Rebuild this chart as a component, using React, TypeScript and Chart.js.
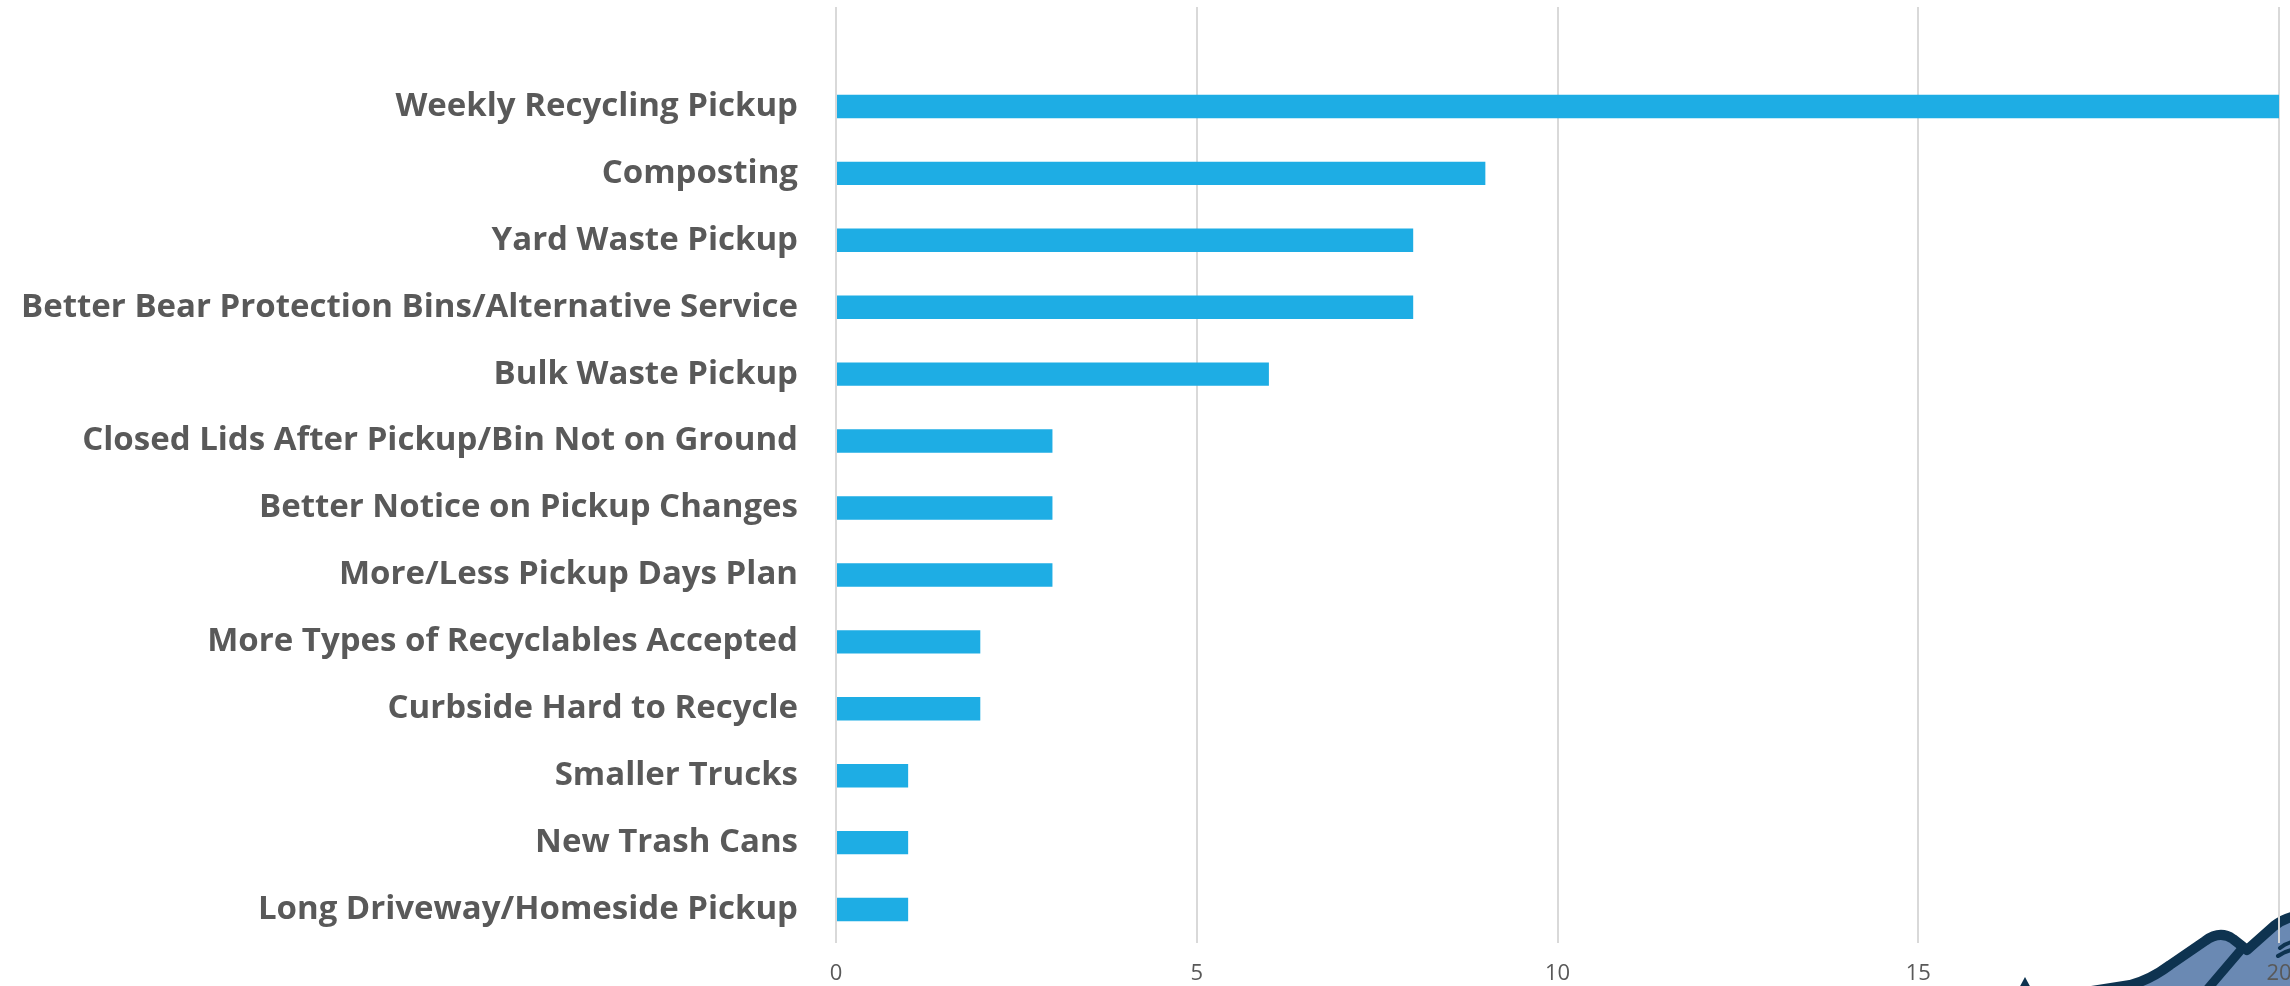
import React, { useEffect, useRef } from "react";
import { Chart, registerables } from "chart.js";

Chart.register(...registerables);

const categories = [
  "Weekly Recycling Pickup",
  "Composting",
  "Yard Waste Pickup",
  "Better Bear Protection Bins/Alternative Service",
  "Bulk Waste Pickup",
  "Closed Lids After Pickup/Bin Not on Ground",
  "Better Notice on Pickup Changes",
  "More/Less Pickup Days Plan",
  "More Types of Recyclables Accepted",
  "Curbside Hard to Recycle",
  "Smaller Trucks",
  "New Trash Cans",
  "Long Driveway/Homeside Pickup",
];

const responses = [20, 9, 8, 8, 6, 3, 3, 3, 2, 2, 1, 1, 1];

const xTicks = [0, 5, 10, 15, 20];

const W = 2290;
const H = 986;

const extendGrid = {
  id: "extendGrid",
  beforeDatasetsDraw(chart: any) {
    const { ctx, chartArea, scales } = chart;
    const x = scales.x;
    ctx.save();
    ctx.strokeStyle = "#d9d9d9";
    ctx.lineWidth = 2;
    xTicks.forEach((v) => {
      const px = Math.round(x.getPixelForValue(v));
      ctx.beginPath();
      ctx.moveTo(px, 7);
      ctx.lineTo(px, chartArea.top);
      ctx.stroke();
    });
    ctx.restore();
  },
};

function ridgePath(ctx: CanvasRenderingContext2D) {
  ctx.moveTo(2085, 992);
  ctx.lineTo(2130, 985);
  ctx.quadraticCurveTo(2150, 980, 2170, 965);
  ctx.lineTo(2205, 941);
  ctx.quadraticCurveTo(2220, 930, 2233, 939);
  ctx.lineTo(2247, 950);
  ctx.lineTo(2274, 926);
  ctx.quadraticCurveTo(2284, 918, 2296, 916);
}

const logo = {
  id: "logo",
  beforeDraw(chart: any) {
    const { ctx } = chart;
    ctx.save();
    ctx.beginPath();
    ridgePath(ctx);
    ctx.lineTo(2296, 992);
    ctx.closePath();
    ctx.fillStyle = "#6a89b3";
    ctx.fill();
    ctx.lineWidth = 10;
    ctx.lineJoin = "round";
    ctx.lineCap = "round";
    ctx.strokeStyle = "#0e3350";
    ctx.beginPath();
    ridgePath(ctx);
    ctx.stroke();
    ctx.lineWidth = 9;
    ctx.beginPath();
    ctx.moveTo(2240, 951);
    ctx.lineTo(2205, 992);
    ctx.stroke();
    ctx.lineWidth = 4;
    ctx.beginPath();
    ctx.moveTo(2280, 948);
    ctx.quadraticCurveTo(2286, 943, 2292, 942);
    ctx.moveTo(2278, 956);
    ctx.quadraticCurveTo(2285, 951, 2292, 950);
    ctx.stroke();
    ctx.fillStyle = "#0e3350";
    ctx.beginPath();
    ctx.moveTo(2025, 977);
    ctx.lineTo(2032, 990);
    ctx.lineTo(2018, 990);
    ctx.closePath();
    ctx.fill();
    ctx.restore();
  },
};

export default function App() {
  const ref = useRef<HTMLCanvasElement>(null);
  useEffect(() => {
    if (!ref.current) return;
    const chart = new Chart(ref.current, {
      type: "bar",
      data: {
        labels: categories,
        datasets: [
          {
            data: responses,
            backgroundColor: "#1eade4",
            categoryPercentage: 1,
            barPercentage: 0.35,
          },
        ],
      },
      options: {
        indexAxis: "y",
        animation: false,
        responsive: false,
        maintainAspectRatio: false,
        devicePixelRatio: 1,
        layout: { padding: { top: 73, right: 11, left: 0, bottom: 0 } },
        plugins: {
          legend: { display: false },
          tooltip: { enabled: false },
        },
        scales: {
          x: {
            type: "linear",
            min: 0,
            max: 20,
            afterBuildTicks(scale: any) {
              scale.ticks = xTicks.map((v) => ({ value: v }));
            },
            afterFit(scale: any) {
              scale.height = 43;
              scale.paddingLeft = 0;
              scale.paddingRight = 0;
            },
            grid: { color: "#d9d9d9", lineWidth: 2, drawTicks: false },
            border: { display: false },
            ticks: {
              padding: 18,
              color: "#595959",
              font: { family: "Open Sans", size: 22 },
            },
          },
          y: {
            type: "category",
            afterFit(scale: any) {
              scale.width = 836;
              scale.paddingTop = 0;
              scale.paddingBottom = 0;
            },
            grid: { display: false },
            border: { display: false },
            ticks: {
              padding: 30,
              color: "#595959",
              font: { family: "Open Sans", size: 33, weight: "bold" },
            },
          },
        },
      },
      plugins: [logo, extendGrid],
    });
    return () => chart.destroy();
  }, []);
  return (
    <div style={{ position: "fixed", left: 0, top: 0, width: W, height: H, background: "#fff" }}>
      <canvas ref={ref} width={W} height={H} style={{ width: W, height: H }} />
    </div>
  );
}
